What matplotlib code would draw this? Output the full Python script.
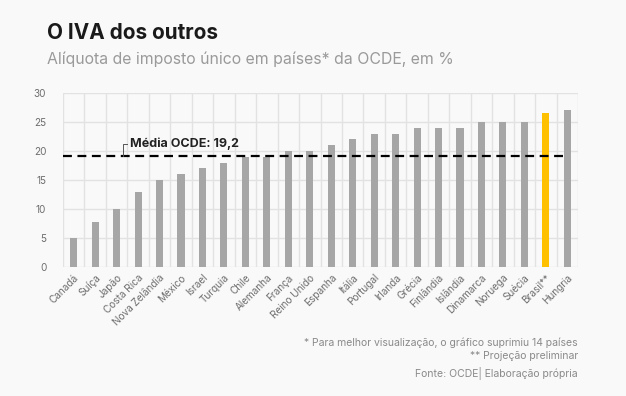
import numpy as np
import matplotlib.pyplot as plt

paises = ['Canadá', 'Suíça', 'Japão', 'Costa Rica', 'Nova Zelândia', 'México',
          'Israel', 'Turquia', 'Chile', 'Alemanha', 'França', 'Reino Unido',
          'Espanha', 'Itália', 'Portugal', 'Irlanda', 'Grécia', 'Finlândia',
          'Islândia', 'Dinamarca', 'Noruega', 'Suécia', 'Brasil**', 'Hungria']
aliquotas = [5, 7.7, 10, 13, 15, 16, 17, 18, 19, 19, 20, 20,
             21, 22, 23, 23, 24, 24, 24, 25, 25, 25, 26.5, 27]
media_ocde = 19.2
destaque = 'Brasil**'

plt.rcParams['font.family'] = ['Inter', 'DejaVu Sans']

fig = plt.figure(figsize=(6.26, 3.96), dpi=100, facecolor='#f9f9f9')
ax = fig.add_axes([63 / 626, 1 - 267 / 396, 515 / 626, 174 / 396])
ax.set_facecolor('#f9f9f9')

x = np.arange(len(paises))
cores = ['#ffc000' if p == destaque else '#a6a6a6' for p in paises]
ax.bar(x, aliquotas, width=0.33, color=cores, zorder=3)

ax.set_xlim(-0.5, len(paises) - 0.5)
ax.set_ylim(0, 30)
ax.set_yticks(range(0, 31, 5))
ax.set_xticks(x)
ax.set_xticklabels(paises, rotation=45, ha='right', rotation_mode='anchor')
ax.set_xticks(np.arange(-0.5, len(paises)), minor=True)
ax.grid(axis='x', which='minor', color='#e2e2e2', lw=1, zorder=0)
ax.grid(axis='y', which='major', color='#e2e2e2', lw=1, zorder=0)
ax.tick_params(axis='both', which='both', length=0, colors='#6e6e6e', labelsize=7.2)
ax.tick_params(axis='x', pad=4)
ax.tick_params(axis='y', pad=12)
for s in ax.spines.values():
    s.set_visible(False)

# linha da média
ax.plot([-0.5, 22.8], [media_ocde, media_ocde], ls=(0, (4, 2.5)), color='black',
        lw=1.6, zorder=4)
ax.plot([2.3, 2.3, 2.5], [media_ocde, 21.2, 21.2], color='#555555', lw=0.7, zorder=4)
ax.text(2.6, 21.2, 'Média OCDE: 19,2', fontsize=9, fontweight='bold',
        color='#222222', va='center', ha='left', zorder=5)

fig.text(47 / 626, 1 - 33 / 396, 'O IVA dos outros', fontsize=14.9, fontweight='bold',
         color='#1a1a1a', va='center')
fig.text(47 / 626, 1 - 59 / 396, 'Alíquota de imposto único em países* da OCDE, em %',
         fontsize=11.4, color='#9a9a9a', va='center')

notas = ['* Para melhor visualização, o gráfico suprimiu 14 países',
         '** Projeção preliminar',
         'Fonte: OCDE| Elaboração própria']
for txt, yy in zip(notas, [343, 356, 373]):
    fig.text(578 / 626, 1 - yy / 396, txt, fontsize=7.5, color='#8a8a8a',
             ha='right', va='center')

fig.savefig('out.png', dpi=100, facecolor=fig.get_facecolor())
